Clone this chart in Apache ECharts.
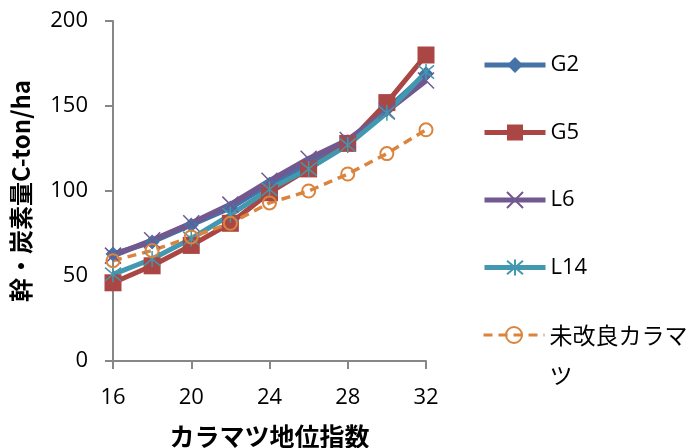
<!DOCTYPE html>
<html>
<head>
<meta charset="utf-8">
<script src="https://cdn.jsdelivr.net/npm/echarts@6/dist/echarts.min.js"></script>
<style>
  html, body { margin: 0; padding: 0; background: #fff; }
  #main { width: 700px; height: 448px; }
</style>
</head>
<body>
<div id="main"></div>
<script>
// グラフ初期化
var chart = echarts.init(document.getElementById('main'));

// データ
var siteIndex = [16, 18, 20, 22, 24, 26, 28, 30, 32];
var g2 = [63, 70, 80, 90, 104, 116, 129, 148, 169];
var g5 = [46, 56, 68, 81, 99, 113, 128, 152, 180];
var l6 = [62, 71, 81, 92, 106, 119, 130, 147, 165];
var l14 = [51, 60, 72, 86, 101, 113, 127, 146, 170];
var mikairyo = [59, 65, 73, 81, 93, 100, 110, 122, 136];
var seriesNames = ['G2', 'G5', 'L6', 'L14', '未改良カラマツ'];
var xTicks = { min: 16, max: 32, interval: 4 };
var yTicks = { min: 0, max: 200, interval: 50 };

var fontLatin = "'Open Sans', 'Noto Sans CJK JP', sans-serif";

function pairs(vals) {
  return siteIndex.map(function (x, i) { return [x, vals[i]]; });
}

// 凡例の共通設定
var legendBase = {
  orient: 'vertical',
  left: 482,
  padding: 0,
  itemWidth: 61,
  itemHeight: 20,
  itemGap: 43.5,
  lineStyle: { width: 5 },
  textStyle: { fontSize: 22, lineHeight: 24, color: '#000', fontFamily: fontLatin }
};

var option = {
  animation: false,
  grid: { left: 113, right: 274, top: 21, bottom: 87, outerBoundsMode: 'none' },
  xAxis: {
    type: 'value',
    min: xTicks.min, max: xTicks.max, interval: xTicks.interval,
    name: 'カラマツ地位指数',
    nameLocation: 'middle',
    nameGap: 63,
    nameTextStyle: { fontFamily: 'Noto Sans CJK JP', fontWeight: 'bold', fontSize: 25, color: '#000' },
    axisLine: { lineStyle: { color: '#878787', width: 2 } },
    axisTick: { show: true, length: 8, lineStyle: { color: '#878787', width: 2 } },
    axisLabel: { margin: 26, fontSize: 22, color: '#000', fontFamily: fontLatin },
    splitLine: { show: false }
  },
  yAxis: {
    type: 'value',
    min: yTicks.min, max: yTicks.max, interval: yTicks.interval,
    name: '幹・炭素量C-ton/ha',
    nameLocation: 'middle',
    nameGap: 80,
    nameRotate: 90,
    nameTextStyle: { fontFamily: 'Noto Sans CJK JP', fontWeight: 'bold', fontSize: 24, color: '#000' },
    axisLine: { show: true, lineStyle: { color: '#878787', width: 2 } },
    axisTick: { show: true, length: 8, lineStyle: { color: '#878787', width: 2 } },
    axisLabel: { margin: 25, fontSize: 22, color: '#000', fontFamily: fontLatin },
    splitLine: { show: false }
  },
  legend: [
    Object.assign({}, legendBase, {
      top: 53,
      data: seriesNames.slice(0, 4)
    }),
    // 2行になる凡例：アイコンを1行目に合わせるため上に空行を入れる
    Object.assign({}, legendBase, {
      top: 275,
      lineStyle: { width: 3 },
      formatter: function (name) { return ' \n' + name; },
      textStyle: {
        fontFamily: 'Noto Sans CJK JP', fontSize: 23, lineHeight: 40, color: '#000',
        width: 150, overflow: 'breakAll'
      },
      data: seriesNames.slice(4)
    })
  ],
  series: [
    {
      name: seriesNames[0], type: 'line', data: pairs(g2),
      symbol: 'diamond', symbolSize: 15,
      lineStyle: { color: '#4572A7', width: 5 },
      itemStyle: { color: '#4572A7' }
    },
    {
      name: seriesNames[1], type: 'line', data: pairs(g5),
      symbol: 'rect', symbolSize: 17,
      lineStyle: { color: '#AA4643', width: 5 },
      itemStyle: { color: '#AA4643' }
    },
    {
      name: seriesNames[2], type: 'line', data: pairs(l6),
      symbol: 'path://M0,0L10,10M10,0L0,10', symbolSize: 16,
      lineStyle: { color: '#71588F', width: 5.5 },
      itemStyle: { color: 'rgba(0,0,0,0)', borderColor: '#71588F', borderWidth: 1.5 }
    },
    {
      name: seriesNames[3], type: 'line', data: pairs(l14),
      symbol: 'path://M0,0L10,10M10,0L0,10M5,-1L5,11', symbolSize: 16,
      lineStyle: { color: '#4198AF', width: 5 },
      itemStyle: { color: 'rgba(0,0,0,0)', borderColor: '#4198AF', borderWidth: 1.5 }
    },
    {
      name: seriesNames[4], type: 'line', data: pairs(mikairyo),
      symbol: 'circle', symbolSize: 13,
      lineStyle: { color: '#DB843D', width: 3.5, type: [9, 6] },
      itemStyle: { color: 'rgba(0,0,0,0)', borderColor: '#DB843D', borderWidth: 2 }
    }
  ]
};

chart.setOption(option);
</script>
</body>
</html>
